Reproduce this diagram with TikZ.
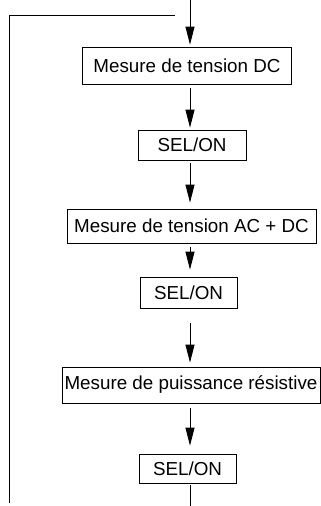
\documentclass[tikz,border=0pt]{standalone}
\usepackage{fontspec}
\setmainfont{Liberation Sans}
\usetikzlibrary{arrows.meta}

\begin{document}
\begin{tikzpicture}[x=1pt, y=-1pt,
			box/.style={draw, line width=0.8pt, inner sep=0pt, font=\fontsize{18.8}{22}\selectfont},
			flow/.style={-{Triangle[length=18pt, width=9pt]}, line width=0.8pt}]
			\useasboundingbox (0, 0) rectangle (321, 506);
			\node (dc) at (187, 65.5) [box, minimum width=209pt, minimum height=37pt] {Mesure de tension DC};
			\node (sel1) at (192, 145) [box, minimum width=108pt, minimum height=30pt] {SEL/ON};
			\node (acdc) at (191.5, 226) [box, minimum width=249pt, minimum height=34pt] {Mesure de tension AC + DC};
			\node (sel2) at (188.5, 292.5) [box, minimum width=97pt, minimum height=31pt] {SEL/ON};
			\node (pres) at (191, 385) [box, minimum width=258pt, minimum height=36pt] {Mesure de puissance résistive};
			\node (sel3) at (187.5, 468.5) [box, minimum width=97pt, minimum height=29pt] {SEL/ON};
			\coordinate (top) at (190, 0);
			\coordinate (bot) at (190, 506);
			\draw [flow, shorten >=2pt] (top)--(dc.north -| top);
			\draw [flow, shorten <=4pt, shorten >=2pt] (dc.south -| top)--(sel1.north -| top);
			\draw [flow, shorten <=3pt, shorten >=6pt] (sel1.south -| top)--(acdc.north -| top);
			\draw [flow, shorten <=4pt, shorten >=7pt] (acdc.south -| top)--(sel2.north -| top);
			\draw [flow, shorten <=15pt, shorten >=4pt] (sel2.south -| top)--(pres.north -| top);
			\draw [flow, shorten <=5pt, shorten >=8pt] (pres.south -| top)--(sel3.north -| top);
			\draw [line width=0.8pt, shorten <=2pt] (sel3.south -| top)--(bot);
			% return path
			\coordinate (loopbot) at (9, 503);
			\coordinate (looptop) at (9, 15);
			\coordinate (loopend) at (175, 15);
			\draw [line width=0.8pt] (loopbot)--(looptop)--(loopend);
		\end{tikzpicture}
\end{document}
